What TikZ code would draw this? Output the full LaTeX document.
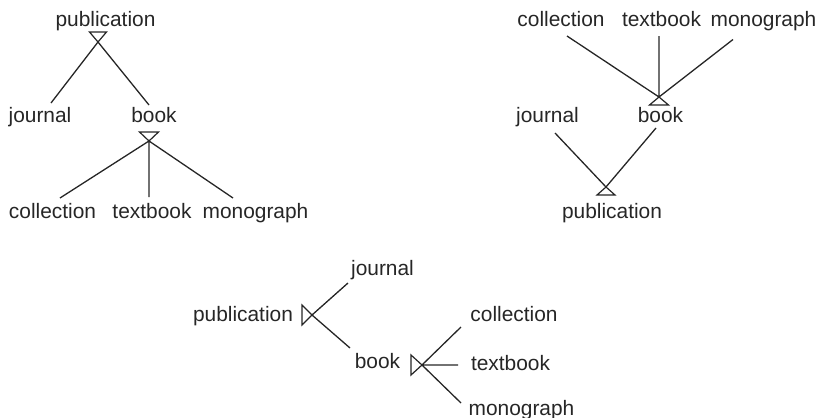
\documentclass[tikz,border=0pt]{standalone}
\usepackage{fontspec}
\setmainfont{Liberation Sans}
\begin{document}
\begin{tikzpicture}[x=1pt,y=-1pt,
  word/.style={anchor=base,inner sep=0pt,font=\fontsize{20.9}{25}\selectfont,text=black!85},
  link/.style={line width=1.3pt,black!85},
  tri/.style={line width=1.2pt,black!85,fill=white,line join=miter}]
\useasboundingbox (0,0) rectangle (820,418);

% ---- tree growing downward
\node[word] (p1) at (105.5,26.5) {publication};
\node[word] (j1) at (40,122) {journal};
\node[word] (b1) at (154,122) {book};
\node[word] (c1) at (52.5,218) {collection};
\node[word] (t1) at (152,218) {textbook};
\node[word] (m1) at (255.5,218) {monograph};
\coordinate (a1) at (98,42);
\coordinate (a2) at (149,141);
\coordinate (j1e) at (51,103);
\coordinate (b1e) at (149,105);
\coordinate (c1e) at (60,198);
\coordinate (t1e) at (149,197);
\coordinate (m1e) at (233,198);
\draw[link] (a1) -- (j1e) (a1) -- (b1e);
\draw[link] (a2) -- (c1e) (a2) -- (t1e) (a2) -- (m1e);
\draw[tri] (a1) -- (89.5,32) -- (106.5,32) -- cycle;
\draw[tri] (a2) -- (139.5,132) -- (158.5,132) -- cycle;

% ---- tree growing upward
\node[word] (c2) at (561,26) {collection};
\node[word] (t2) at (661.5,26) {textbook};
\node[word] (m2) at (763.5,26) {monograph};
\node[word] (j2) at (547.5,122.5) {journal};
\node[word] (b2) at (660.5,122.5) {book};
\node[word] (p2) at (612,218) {publication};
\coordinate (a3) at (659,97);
\coordinate (a4) at (606,187);
\coordinate (c2e) at (567,36);
\coordinate (t2e) at (659,36);
\coordinate (m2e) at (733,39.5);
\coordinate (j2e) at (555,133);
\coordinate (b2e) at (656,128);
\draw[link] (a3) -- (c2e) (a3) -- (t2e) (a3) -- (m2e);
\draw[link] (a4) -- (j2e) (a4) -- (b2e);
\draw[tri] (a3) -- (649.5,105) -- (668.5,105) -- cycle;
\draw[tri] (a4) -- (597,195) -- (615,195) -- cycle;

% ---- tree growing to the right
\node[word] (p3) at (243,321.5) {publication};
\node[word] (j3) at (382.5,275) {journal};
\node[word] (b3) at (377.5,368) {book};
\node[word] (c3) at (514,321.5) {collection};
\node[word] (t3) at (510.5,370.5) {textbook};
\node[word] (m3) at (521.5,415) {monograph};
\coordinate (a5) at (312,315);
\coordinate (a6) at (422,365);
\coordinate (j3e) at (348,283);
\coordinate (b3e) at (350,348);
\coordinate (c3e) at (461,327);
\coordinate (t3e) at (458,365);
\coordinate (m3e) at (461,403);
\draw[link] (a5) -- (j3e) (a5) -- (b3e);
\draw[link] (a6) -- (c3e) (a6) -- (t3e) (a6) -- (m3e);
\draw[tri] (a5) -- (302,305) -- (302,325) -- cycle;
\draw[tri] (a6) -- (411,355) -- (411,375) -- cycle;
\end{tikzpicture}
\end{document}
